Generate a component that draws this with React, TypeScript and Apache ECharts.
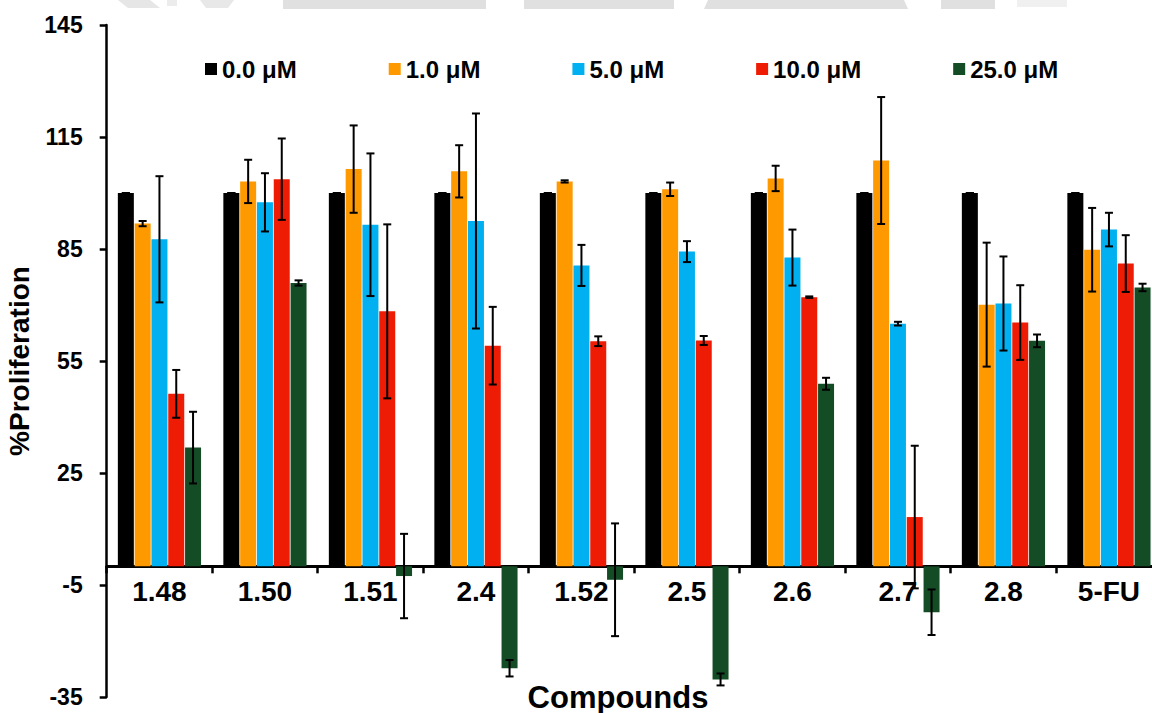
import React, { useEffect, useRef } from "react";
import * as echarts from "echarts";

const categories = ["1.48", "1.50", "1.51", "2.4", "1.52", "2.5", "2.6", "2.7", "2.8", "5-FU"];
const seriesNames = ["0.0 μM", "1.0 μM", "5.0 μM", "10.0 μM", "25.0 μM"];
const seriesColors = ["#000000", "#FF9900", "#00B0F0", "#EE1C04", "#144D25"];

const conc0 = [100, 100, 100, 100, 100, 100, 100, 100, 100, 100];
const err0 = [0, 0, 0, 0, 0, 0, 0, 0, 0, 0];
const conc1 = [91.8, 103.1, 106.4, 105.8, 103.1, 101.0, 103.9, 108.7, 70.1, 84.8];
const err1 = [0.7, 5.8, 11.7, 7.0, 0.3, 1.8, 3.4, 17.0, 16.6, 11.2];
const conc5 = [87.6, 97.5, 91.5, 92.5, 80.6, 84.3, 82.7, 65.0, 70.4, 90.2];
const err5 = [16.9, 7.8, 19.1, 28.8, 5.5, 2.8, 7.5, 0.5, 12.6, 4.5];
const conc10 = [46.2, 103.7, 68.3, 59.1, 60.3, 60.5, 72.1, 13.2, 65.3, 81.1];
const err10 = [6.4, 10.9, 23.3, 10.4, 1.3, 1.2, 0.2, 19.1, 10.0, 7.6];
const conc25 = [31.8, 75.9, -2.6, -27.3, -3.6, -30.3, 48.9, -12.3, 60.4, 74.7];
const err25 = [9.6, 0.7, 11.3, 2.2, 15.1, 1.6, 1.6, 6.1, 1.7, 1.0];

const yMin = -35;
const yMax = 145;
const yInterval = 30;

const FONT = "'Liberation Sans', Arial, sans-serif";
const BAR_W = 16;
const BAR_PITCH = 16.8;

const W = 1152;
const H = 713;
const GRID = { left: 106.7, right: -9.7, top: 25, bottom: 16 };

export default function App() {
  const ref = useRef<HTMLDivElement>(null);

  useEffect(() => {
    if (!ref.current) return;
    const chart = echarts.init(ref.current, null, { renderer: "svg" });
    const values = [conc0, conc1, conc5, conc10, conc25];
    const errors = [err0, err1, err5, err10, err25];

    const errData: number[][] = [];
    values.forEach((vals, si) => {
      vals.forEach((v, ci) => {
        errData.push([ci, v, errors[si][ci], si]);
      });
    });

    const gridH = H - GRID.top - GRID.bottom;
    const zeroOffset = -gridH * (0 - yMin) / (yMax - yMin);

    const barSeries = values.map((vals, si) => ({
      name: seriesNames[si],
      type: "bar",
      data: vals,
      barWidth: BAR_W,
      barGap: "5%",
      itemStyle: { color: seriesColors[si] },
      z: 2,
    }));

    const option: any = {
      animation: false,
      backgroundColor: "#ffffff",
      textStyle: { fontFamily: FONT },
      grid: { ...GRID, containLabel: false, outerBoundsMode: "none" },
      legend: {
        data: seriesNames,
        left: 205,
        top: 57,
        padding: 0,
        itemWidth: 12,
        itemHeight: 12,
        itemGap: 92,
        icon: "rect",
        textStyle: { fontFamily: FONT, fontSize: 24, fontWeight: "bold", color: "#000" },
      },
      xAxis: {
        type: "category",
        data: categories,
        offset: zeroOffset,
        axisLine: { onZero: false, lineStyle: { color: "#000", width: 3 } },
        axisTick: { show: true, length: 7, lineStyle: { color: "#000", width: 2.5 } },
        axisLabel: {
          color: "#000",
          fontFamily: FONT,
          fontSize: 28,
          fontWeight: "bold",
          margin: 11,
          interval: 0,
        },
        splitLine: { show: false },
      },
      yAxis: {
        type: "value",
        min: yMin,
        max: yMax,
        interval: yInterval,
        name: "%Proliferation",
        nameLocation: "middle",
        nameGap: 70,
        nameTextStyle: { fontFamily: FONT, fontSize: 28, fontWeight: "bold", color: "#000" },
        axisLine: { show: true, onZero: false, lineStyle: { color: "#000", width: 2.5 } },
        axisTick: { show: true, length: 7, lineStyle: { color: "#000", width: 2.5 } },
        axisLabel: {
          color: "#000",
          fontFamily: FONT,
          fontSize: 23,
          fontWeight: "bold",
          margin: 24,
        },
        splitLine: { show: false },
      },
      graphic: [
        { type: "polygon", shape: { points: [[118, 0], [150, 0], [160, 8], [128, 8]] }, style: { fill: "#e6e6e6" }, silent: true },
        { type: "rect", shape: { x: 167, y: 0, width: 10, height: 6 }, style: { fill: "#ececec" }, silent: true },
        { type: "polygon", shape: { points: [[200, 0], [234, 0], [228, 8], [206, 8]] }, style: { fill: "#e8e8e8" }, silent: true },
        { type: "rect", shape: { x: 283, y: 0, width: 203, height: 9 }, style: { fill: "#e0e0e0" }, silent: true },
        { type: "rect", shape: { x: 524, y: 0, width: 150, height: 9 }, style: { fill: "#e0e0e0" }, silent: true },
        { type: "polygon", shape: { points: [[708, 0], [904, 0], [908, 9], [704, 9]] }, style: { fill: "#e0e0e0" }, silent: true },
        { type: "rect", shape: { x: 941, y: 0, width: 54, height: 9 }, style: { fill: "#e0e0e0" }, silent: true },
        { type: "rect", shape: { x: 1017, y: 0, width: 50, height: 7 }, style: { fill: "#f0f0f0" }, silent: true },
        {
          type: "text",
          x: 618,
          y: 697,
          style: {
            text: "Compounds",
            fill: "#000",
            fontFamily: FONT,
            fontSize: 31,
            fontWeight: "bold",
            align: "center",
            verticalAlign: "middle",
          },
          silent: true,
        },
      ],
      series: [
        ...barSeries,
        {
          type: "custom",
          name: "errors",
          data: errData,
          encode: { x: 0, y: 1 },
          z: 5,
          silent: true,
          clip: false,
          renderItem: (params: any, api: any) => {
            const ci = api.value(0);
            const v = api.value(1);
            const e = api.value(2);
            const si = api.value(3);
            const c = api.coord([ci, v]);
            const hi = api.coord([ci, v + e]);
            const lo = api.coord([ci, v - e]);
            const x = c[0] + (si - 2) * BAR_PITCH;
            const cap = 4;
            const style = { stroke: "#000", lineWidth: 2 };
            return {
              type: "group",
              children: [
                { type: "line", shape: { x1: x, y1: hi[1], x2: x, y2: lo[1] }, style },
                { type: "line", shape: { x1: x - cap, y1: hi[1], x2: x + cap, y2: hi[1] }, style },
                { type: "line", shape: { x1: x - cap, y1: lo[1], x2: x + cap, y2: lo[1] }, style },
              ],
            };
          },
        },
      ],
    };

    chart.setOption(option);
    return () => chart.dispose();
  }, []);

  return (
    <div
      ref={ref}
      style={{ position: "fixed", left: 0, top: 0, width: W, height: H, background: "#fff" }}
    />
  );
}
